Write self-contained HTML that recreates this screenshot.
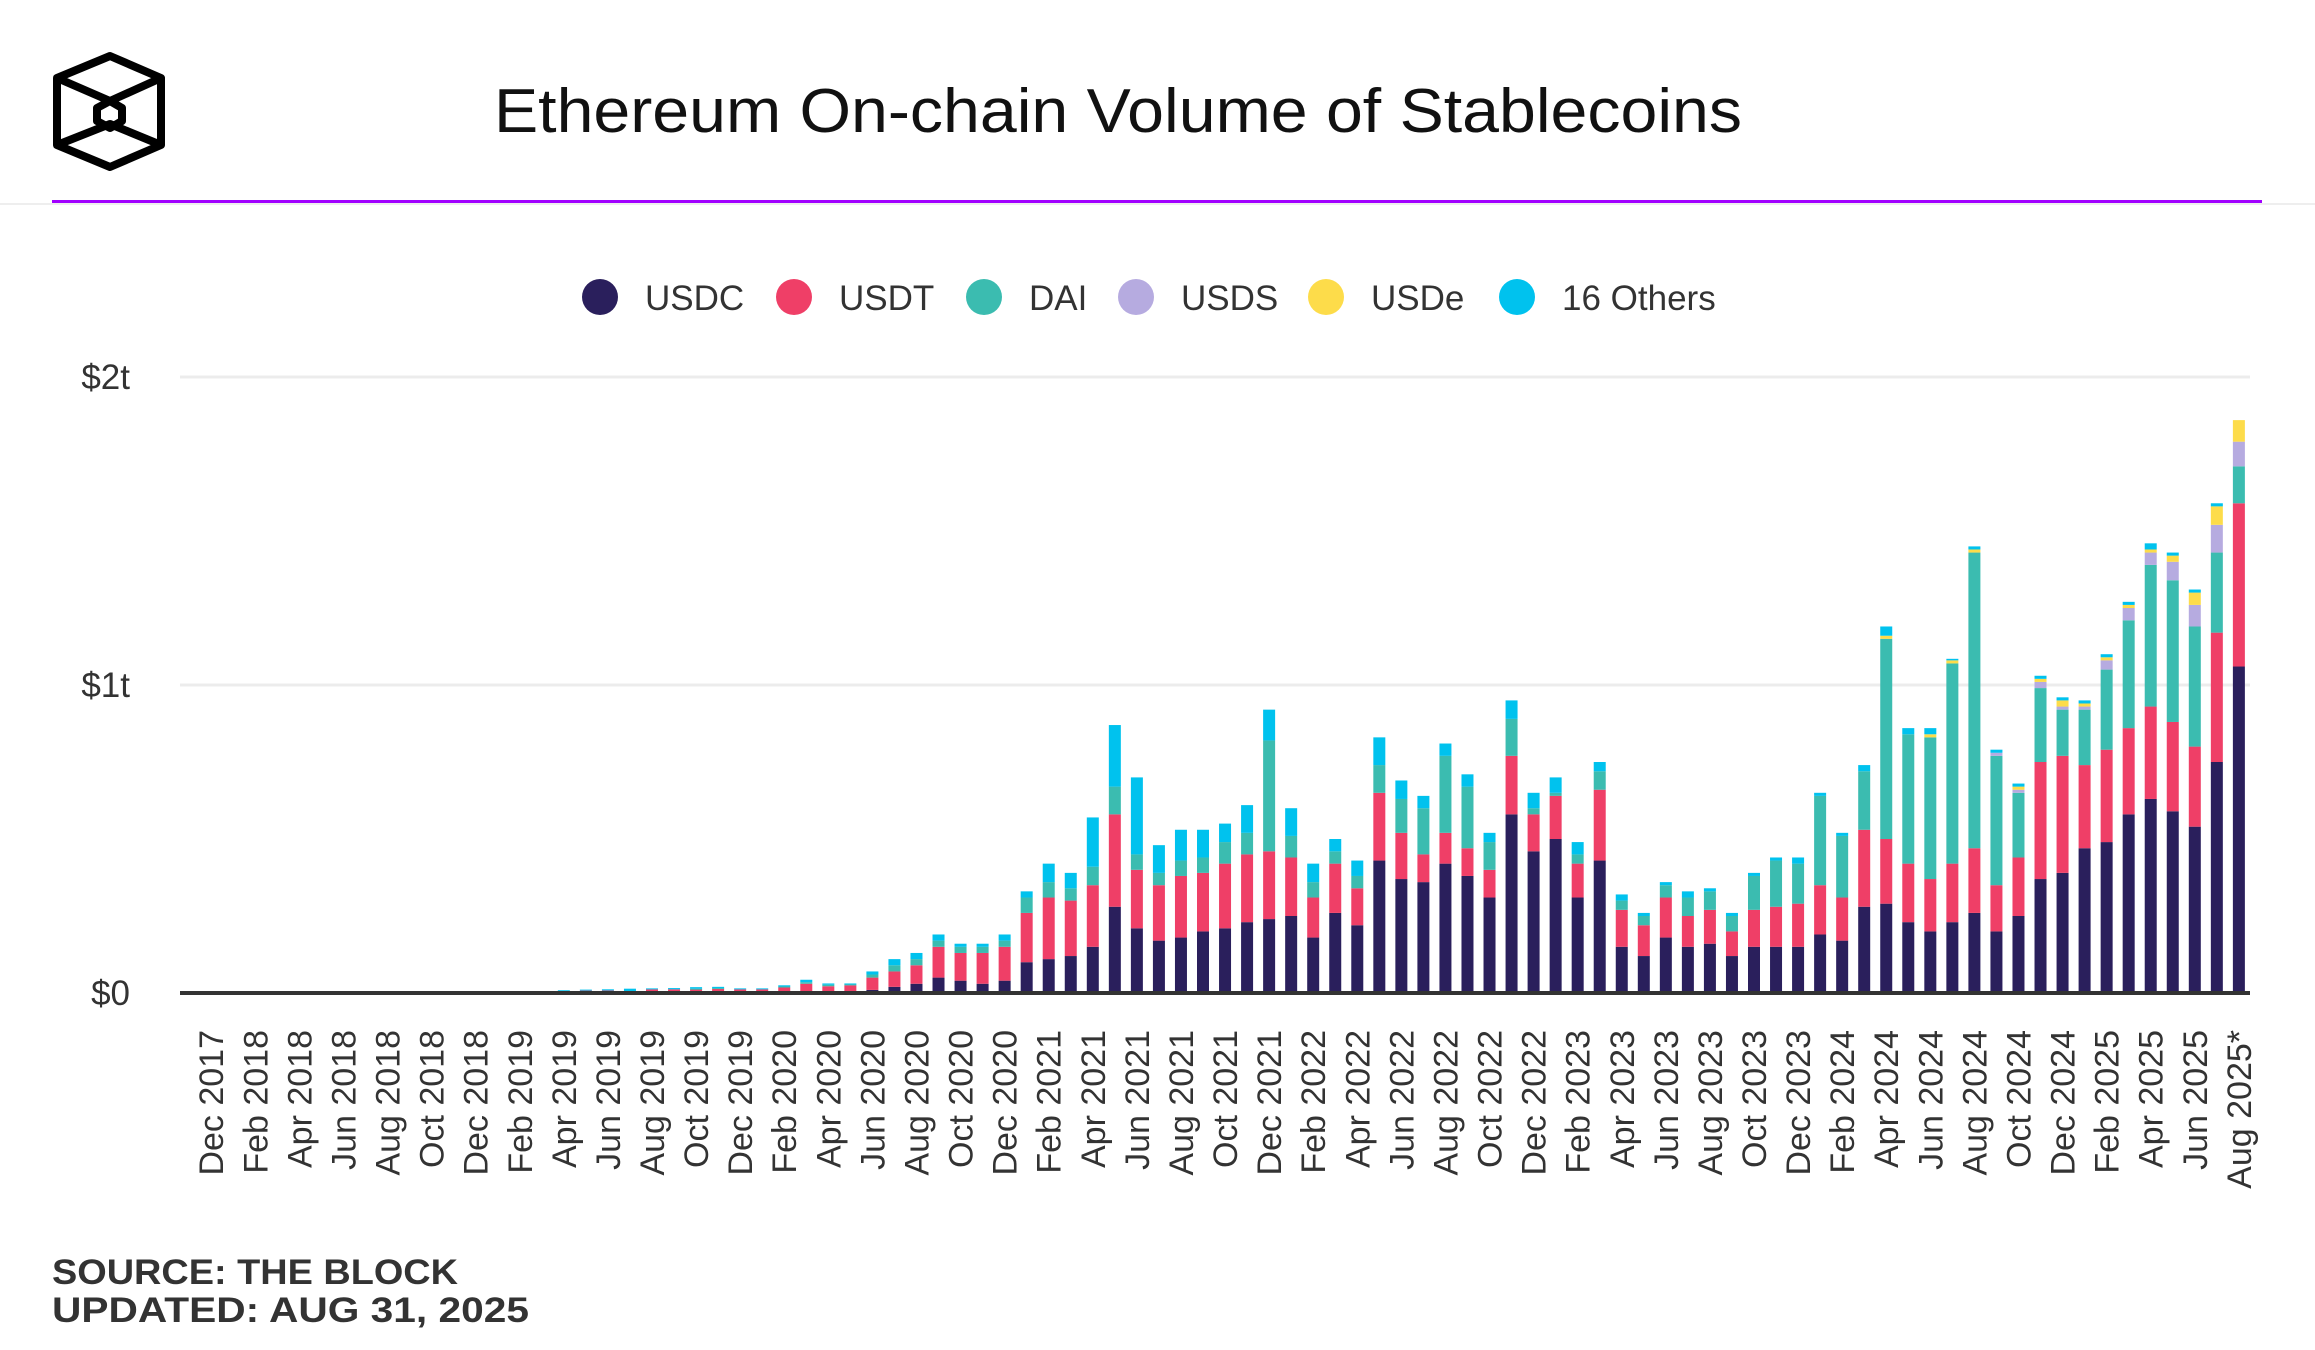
<!DOCTYPE html>
<html><head><meta charset="utf-8"><style>
html,body{margin:0;padding:0;background:#fff;}
svg{display:block;font-family:"Liberation Sans",sans-serif;}
</style></head><body>
<svg id="chart" width="2315" height="1350" viewBox="0 0 2315 1350" xmlns="http://www.w3.org/2000/svg">
<g fill="none" stroke="#000" stroke-width="8" stroke-linejoin="round">
<polygon points="110,56 161,78 161,145 110,167 57,145 57,78"/>
<polyline points="57,78 110,101 161,78"/>
<polyline points="57,145 110,124 161,145"/>
<polygon points="110,101 122,108 122,121 110,128 97,121 97,108"/>
</g>
<text x="1118" y="132" text-anchor="middle" font-size="62" fill="#111" textLength="1248" lengthAdjust="spacingAndGlyphs">Ethereum On-chain Volume of Stablecoins</text>
<rect x="0" y="203" width="2315" height="2" fill="#eee"/>
<rect x="52" y="200" width="2210" height="3" fill="#a100ff"/>
<g id="legend"></g>
<g id="grid"></g>
<g id="bars"></g>
<g id="xlabels"></g>
<text x="52" y="1284" font-size="35" font-weight="bold" fill="#333" textLength="406" lengthAdjust="spacingAndGlyphs">SOURCE: THE BLOCK</text>
<text x="52" y="1322" font-size="35" font-weight="bold" fill="#333" textLength="477" lengthAdjust="spacingAndGlyphs">UPDATED: AUG 31, 2025</text>
</svg>
<script>
const seriesNames = ["USDC","USDT","DAI","USDS","USDe","16 Others"];
const seriesColors = ["#2a1f5c","#ef3f67","#3bbcb0","#b6abe0","#fddc4a","#00c2ee"];
const months = [];
const usdc = [0,0,0,0,0,0,0,0,0,0,0,0,0,0,0,0,
0,0,0,0,0,0,0,0,0,0,0,0,0,0,.01,.02,.03,.05,.04,.03,.04,
.10,.11,.12,.15,.28,.21,.17,.18,.20,.21,.23,.24,.25,.18,.26,.22,.43,.37,.36,.42,.38,.31,.58,.46,.50,.31,.43,
.15,.12,.18,.15,.16,.12,.15,.15,.15,.19,.17,.28,.29,.23,.20,.23,.26,.20,.25,.37,.39,.47,.49,.58,.63,.59,.54,.75,1.06];
const usdt = [0,0,0,0,0,0,0,0,0,0,0,0,0,0,0,0,
.005,.008,.008,.006,.012,.012,.012,.014,.012,.012,.018,.03,.022,.025,.04,.05,.06,.10,.09,.10,.11,
.16,.20,.18,.20,.30,.19,.18,.20,.19,.21,.22,.22,.19,.13,.16,.12,.22,.15,.09,.10,.09,.09,.19,.12,.14,.11,.23,
.12,.10,.13,.10,.11,.08,.12,.13,.14,.16,.14,.25,.21,.19,.17,.19,.21,.15,.19,.38,.38,.27,.30,.28,.30,.29,.26,.42,.53];
const dai = [0,0,0,0,0,0,0,0,0,0,0,0,0,0,0,0,
0,0,0,0,0,0,.002,.002,0,0,.003,.005,.005,.003,.01,.02,.02,.02,.02,.02,.02,
.05,.05,.04,.06,.09,.05,.04,.05,.05,.07,.07,.36,.07,.05,.04,.04,.09,.11,.15,.25,.20,.09,.12,.02,.01,.03,.06,
.03,.03,.04,.06,.06,.05,.11,.15,.13,.29,.20,.19,.65,.42,.46,.65,.96,.42,.21,.24,.15,.18,.26,.35,.46,.46,.39,.26,.12];
const usds = [0,0,0,0,0,0,0,0,0,0,0,0,0,0,0,0,
0,0,0,0,0,0,0,0,0,0,0,0,0,0,0,0,0,0,0,0,0,
0,0,0,0,0,0,0,0,0,0,0,0,0,0,0,0,0,0,0,0,0,0,0,0,0,0,0,
0,0,0,0,0,0,0,0,0,0,0,0,0,0,0,0,0,.01,.01,.02,.01,.01,.03,.04,.04,.06,.07,.09,.08];
const usde = [0,0,0,0,0,0,0,0,0,0,0,0,0,0,0,0,
0,0,0,0,0,0,0,0,0,0,0,0,0,0,0,0,0,0,0,0,0,
0,0,0,0,0,0,0,0,0,0,0,0,0,0,0,0,0,0,0,0,0,0,0,0,0,0,0,
0,0,0,0,0,0,0,0,0,0,0,0,.01,0,.01,.01,.01,0,.01,.01,.02,.01,.01,.01,.01,.02,.04,.06,.07];
const others = [0,0,0,0,0,0,0,0,0,0,0,0,0,0,0,0,
.004,.003,.004,.008,.003,.004,.005,.004,.003,.003,.004,.008,.004,.003,.01,.02,.02,.02,.01,.01,.02,
.02,.06,.05,.16,.20,.25,.09,.10,.09,.06,.09,.10,.09,.06,.04,.05,.09,.06,.04,.04,.04,.03,.06,.05,.05,.04,.03,
.02,.01,.01,.02,.01,.01,.01,.01,.02,.01,.01,.02,.03,.02,.02,.005,.01,.01,.01,.01,.01,.01,.01,.01,.02,.01,.01,.01,0];
const yTicks = [0,1,2];
const yTickLabels = ["$0","$1t","$2t"];
const monthAbbr = ["Jan","Feb","Mar","Apr","May","Jun","Jul","Aug","Sep","Oct","Nov","Dec"];

const NS = "http://www.w3.org/2000/svg";
for (let i = 0; i < 93; i++) {
  const m = (11 + i) % 12, yr = 2017 + Math.floor((11 + i) / 12);
  months.push(monthAbbr[m] + " " + yr);
}
const series = [usdc, usdt, dai, usds, usde, others];
function xScale(i){ return 211.2 + 22.04 * i; }
function yScale(v){ return 993 - 308 * v; }
function mk(tag, attrs, parent){ const e = document.createElementNS(NS, tag); for (const k in attrs) e.setAttribute(k, attrs[k]); parent.appendChild(e); return e; }

const grid = document.getElementById('grid');
yTicks.forEach((t, k) => {
  if (t > 0) {
    const ln = mk('rect', {x:180, y:yScale(t)-1.5, width:2070, height:3, fill:'#ececec'}, grid);
    
    
  }
  const tx = mk('text', {x:130, y:yScale(t)+12, 'text-anchor':'end', 'font-size':35, fill:'#333'}, grid);
  tx.textContent = yTickLabels[k];
  
  
});

const bars = document.getElementById('bars');
for (let i = 0; i < months.length; i++) {
  let acc = 0;
  series.forEach((s, si) => {
    const v = s[i] || 0;
    if (v <= 0) return;
    const y1 = yScale(acc + v), y0 = yScale(acc);
    const r = mk('rect', {x:xScale(i)-6, y:y1, width:12, height:Math.max(y0-y1, 1), fill:seriesColors[si]}, bars);
    
    
    acc += v;
  });
}
const axis = mk('rect', {x:180, y:991, width:2070, height:4, fill:'#333'}, bars);



const xl = document.getElementById('xlabels');
for (let i = 0; i < months.length; i += 2) {
  const x = xScale(i) + 12, y = 1030;
  const t = mk('text', {x:x, y:y, transform:'rotate(-90 ' + x + ' ' + y + ')', 'text-anchor':'end', 'font-size':34, fill:'#333'}, xl);
  t.textContent = months[i] + (i === months.length - 1 ? '*' : '');
  
  
}

const lg = document.getElementById('legend');
const lgCx = [600, 794, 984, 1136, 1326, 1517];
seriesNames.forEach((n, k) => {
  const g = mk('g', {}, lg);
  
  
  mk('circle', {cx:lgCx[k], cy:297, r:18, fill:seriesColors[k]}, g);
  const t = mk('text', {x:lgCx[k]+45, y:310, 'font-size':35, fill:'#333'}, g);
  t.textContent = n;
});
</script>
</body></html>
